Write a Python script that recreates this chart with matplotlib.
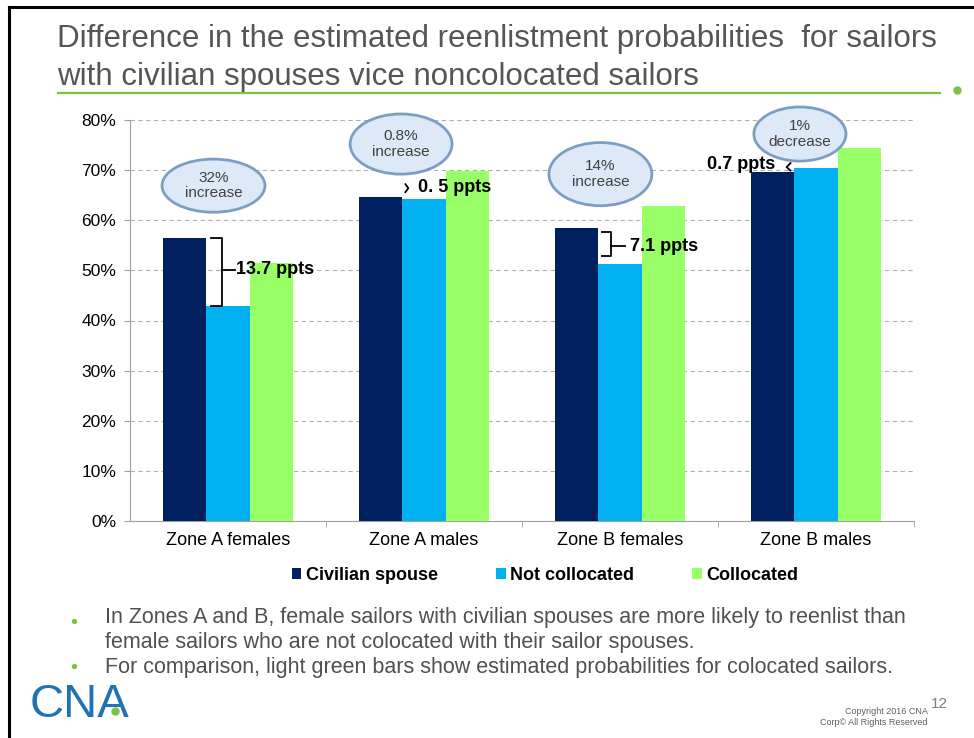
import matplotlib

matplotlib.use("Agg")

import matplotlib.pyplot as plt
import numpy as np
from matplotlib.patches import Ellipse, Patch
from matplotlib.lines import Line2D

W, H = 974, 738

categories = ["Zone A females", "Zone A males", "Zone B females", "Zone B males"]
series_names = ["Civilian spouse", "Not collocated", "Collocated"]
civilian = [56.5, 64.7, 58.4, 69.7]
not_collocated = [42.8, 64.2, 51.3, 70.4]
collocated = [51.4, 69.9, 62.9, 74.5]
colors = ["#002060", "#00b0f0", "#99ff66"]

bubble_lines = ["32%\nincrease", "0.8%\nincrease", "14%\nincrease", "1%\ndecrease"]
ppt_labels = ["13.7 ppts", "0. 5 ppts", "7.1 ppts", "0.7 ppts"]
yticks = [0, 10, 20, 30, 40, 50, 60, 70, 80]

bullets = [
    "In Zones A and B, female sailors with civilian spouses are more likely to reenlist than\nfemale sailors who are not colocated with their sailor spouses.",
    "For comparison, light green bars show estimated probabilities for colocated sailors.",
]
title = "Difference in the estimated reenlistment probabilities  for sailors\nwith civilian spouses vice noncolocated sailors"

plt.rcParams["font.family"] = ["Liberation Sans", "DejaVu Sans"]


def fx(x):
    return x / W


def fy(y):
    return 1 - y / H


fig = plt.figure(figsize=(W / 100, H / 100), dpi=100)
fig.patch.set_facecolor("white")

# slide frame
fig.add_artist(Line2D([fx(9), fx(9)], [fy(7), 0], color="black", lw=2.2))
fig.add_artist(Line2D([fx(9), 1], [fy(7), fy(7)], color="black", lw=2.2))

# title + green rule
fig.text(fx(57), fy(58), title, fontsize=22.5, color="#555555",
         va="center", ha="left", linespacing=1.32)
fig.add_artist(Line2D([fx(58), fx(940)], [fy(93), fy(93)], color="#7cc242", lw=1.6))
fig.add_artist(Line2D([fx(957)], [fy(90)], marker="o", ms=5, color="#7cc242"))

ax = fig.add_axes([fx(130), fy(521), (914 - 130) / W, (521 - 120) / H])
x = np.arange(len(categories))
bw = 0.222
for k, (vals, name) in enumerate(zip([civilian, not_collocated, collocated], series_names)):
    ax.bar(x + (k - 1) * bw, vals, width=bw, color=colors[k], label=name, zorder=3)

ax.set_xlim(-0.5, 3.5)
ax.set_ylim(0, 80)
ax.set_yticks(yticks)
ax.set_yticklabels([f"{v}%" for v in yticks], fontsize=12.5)
ax.set_xticks(x)
ax.set_xticklabels(categories, fontsize=13)
ax.set_xticks([0.5, 1.5, 2.5, 3.5], minor=True)
ax.tick_params(axis="x", which="major", length=0, pad=8)
ax.tick_params(axis="x", which="minor", length=4, color="#a0a0a0")
ax.tick_params(axis="y", length=4, color="#a0a0a0", pad=6)
ax.grid(True, axis="y", linestyle=(0, (4, 3)), color="#b0b0b0", lw=0.8, zorder=0)
for side in ["top", "right"]:
    ax.spines[side].set_visible(False)
for side in ["left", "bottom"]:
    ax.spines[side].set_color("#a0a0a0")

# bubbles
bubble_pos = [(-0.074, 66.9, 0.525, 10.6), (0.883, 75.2, 0.52, 12.0),
              (1.9, 69.2, 0.525, 12.6), (2.918, 77.2, 0.47, 10.8)]
for (bx, by, bwid, bh), txt in zip(bubble_pos, bubble_lines):
    ax.add_patch(Ellipse((bx, by), bwid, bh, facecolor="#dde9f6", edgecolor="#7d9ec4",
                         lw=2, zorder=5, clip_on=False))
    ax.text(bx, by, txt, ha="center", va="center", fontsize=11, color="#404040",
            linespacing=1.15, zorder=6)

bold = dict(fontsize=13, fontweight="bold", color="black", va="center", zorder=7)
kw = dict(color="black", lw=1.3, zorder=7, clip_on=False)

# Zone A females bracket
top, bot = civilian[0], not_collocated[0]
mid = 50.1
ax.plot([-0.087, -0.031, -0.031, -0.087], [top, top, bot, bot], **kw)
ax.plot([-0.031, 0.036], [mid, mid], **kw)
ax.text(0.04, mid, ppt_labels[0], ha="left", **bold)

# Zone A males
ax.plot([0.905, 0.92, 0.905], [67.2, 66.4, 65.6], **kw)
ax.text(0.97, 66.5, ppt_labels[1], ha="left", **bold)

# Zone B females bracket
top, bot = 57.6, 52.8
mid = 54.8
ax.plot([1.908, 1.954, 1.954, 1.908], [top, top, bot, bot], **kw)
ax.plot([1.954, 2.026], [mid, mid], **kw)
ax.text(2.05, mid, ppt_labels[2], ha="left", **bold)

# Zone B males
ax.plot([2.87, 2.85, 2.87], [71.4, 70.6, 69.9], **kw)
ax.text(2.79, 71.2, ppt_labels[3], ha="right", **bold)

handles = [Patch(facecolor=c) for c in colors]
leg = fig.legend(handles, series_names, loc="center", bbox_to_anchor=(fx(545), fy(575)),
                 ncol=3, frameon=False, handlelength=0.55, handleheight=0.55,
                 handletextpad=0.25, columnspacing=3.2,
                 prop={"size": 13, "weight": "bold"})

# bullets
bullet_dots = [621, 666]
bullet_y = [630, 667]
for dy, by, txt in zip(bullet_dots, bullet_y, bullets):
    fig.add_artist(Line2D([fx(74)], [fy(dy)], marker="o", ms=2.8, color="#7cc242"))
    fig.text(fx(105), fy(by), txt, fontsize=15.5, color="#505050",
             va="center", ha="left", linespacing=1.25)

# CNA logo
fig.text(fx(30), fy(705), "CNA", fontsize=34, color="#1f72b4", va="center", ha="left")
fig.add_artist(Line2D([fx(115)], [fy(711)], marker="o", ms=5, color="#7cc242"))

fig.text(fx(928), fy(717), "Copyright 2016 CNA\nCorp\u00a9 All Rights Reserved", fontsize=6.5,
         color="#606060", ha="right", va="center", linespacing=1.2)
fig.text(fx(948), fy(704), "12", fontsize=11, color="#808080", ha="right", va="center")

fig.savefig("out.png", dpi=100)
